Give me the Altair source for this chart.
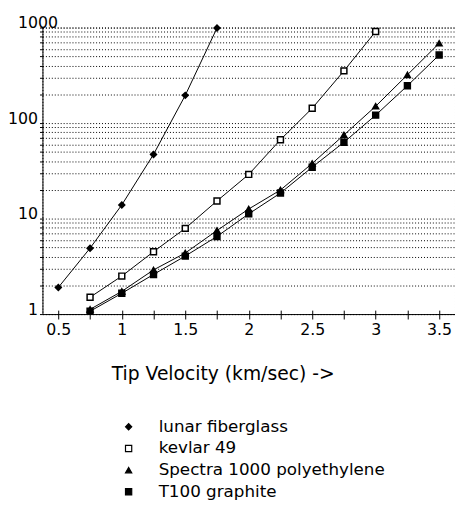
import altair as alt
import pandas as pd

# ---- data ----
series_names = ["lunar fiberglass", "kevlar 49", "Spectra 1000 polyethylene", "T100 graphite"]

lunar_v = [0.5, 0.75, 1.0, 1.25, 1.5, 1.75]
lunar_m = [1.9, 4.9, 13.9, 47, 195, 990]

kevlar_v = [0.75, 1.0, 1.25, 1.5, 1.75, 2.0, 2.25, 2.5, 2.75, 3.0]
kevlar_m = [1.5, 2.5, 4.5, 7.9, 15.3, 29, 67, 143, 352, 910]

spectra_v = [0.75, 1.0, 1.25, 1.5, 1.75, 2.0, 2.25, 2.5, 2.75, 3.0, 3.25, 3.5]
spectra_m = [1.12, 1.73, 2.9, 4.36, 7.5, 12.6, 19.9, 37.8, 75, 150, 320, 684]

t100_v = [0.75, 1.0, 1.25, 1.5, 1.75, 2.0, 2.25, 2.5, 2.75, 3.0, 3.25, 3.5]
t100_m = [1.07, 1.65, 2.6, 4.05, 6.5, 11.2, 18.5, 34.5, 63, 121, 246, 516]

x_ticks = [0.5, 0.75, 1.0, 1.25, 1.5, 1.75, 2.0, 2.25, 2.5, 2.75, 3.0, 3.25, 3.5]
y_ticks = [1, 2, 3, 4, 5, 6, 7, 8, 9, 10, 20, 30, 40, 50, 60, 70, 80, 90,
           100, 200, 300, 400, 500, 600, 700, 800, 900, 1000]

rows = []
for name, vs, ms in zip(series_names,
                        [lunar_v, kevlar_v, spectra_v, t100_v],
                        [lunar_m, kevlar_m, spectra_m, t100_m]):
    for v, m in zip(vs, ms):
        rows.append({"series": name, "v": v, "m": m})
df = pd.DataFrame(rows)

FONT = "DejaVu Sans"
W, H = 419, 291
x_dom = [0.375, 3.625]

x_scale = alt.Scale(domain=x_dom, nice=False, zero=False)
y_scale = alt.Scale(type="log", domain=[1, 1000], nice=False)

x_bottom = alt.X(
    "v:Q", scale=x_scale, title="Tip Velocity (km/sec) ->",
    axis=alt.Axis(values=x_ticks, format="~g",
                  labelExpr="(datum.value * 2) % 1 == 0 ? datum.label : ''",
                  grid=False, tickSize=5, labelPadding=3, labelFontSize=16,
                  labelFont=FONT, labelColor="black", domainColor="black",
                  tickColor="black", titleFont=FONT, titleFontSize=19,
                  titleFontWeight="normal", titleColor="black",
                  titlePadding=27, titleX=183, titleAlign="center",
                  labelFlush=False, labelOverlap=False))

y_enc = alt.Y(
    "m:Q", scale=y_scale, title=None,
    axis=alt.Axis(values=y_ticks, format="d",
                  labelExpr="(datum.value == 1 || datum.value == 10 || datum.value == 100 || datum.value == 1000) ? datum.label : ''",
                  grid=True, gridColor="black", gridDash=[1, 2], gridWidth=1,
                  gridOpacity=1, tickSize=3, labelPadding=2, labelFontSize=16,
                  labelFont=FONT, labelColor="black", domainColor="black",
                  tickColor="black", labelBaseline="alphabetic",
                  labelAlign={"condition": {"test": "datum.value == 1000", "value": "center"}, "value": "right"},
                  labelOverlap=False, labelFlush=False))

lines = alt.Chart(df).mark_line(color="black", strokeWidth=1).encode(
    x=x_bottom, y=y_enc, detail="series:N", order="v:Q")

shape_scale = alt.Scale(domain=series_names,
                        range=["diamond", "square", "triangle-up", "square"])
fill_scale = alt.Scale(domain=series_names,
                       range=["black", "white", "black", "black"])
stroke_scale = alt.Scale(domain=series_names,
                         range=["black", "black", "black", "black"])
legend = alt.Legend(title=None, orient="none", legendX=79, legendY=397,
                    padding=0, labelFont=FONT, labelFontSize=17,
                    labelColor="black", symbolSize=40, symbolStrokeColor="black",
                    symbolStrokeWidth=1.2, labelOffset=22, rowPadding=4,
                    symbolOpacity=1, labelLimit=400)

points = alt.Chart(df).mark_point(filled=True, strokeWidth=1.5,
                                  opacity=1, size=36).encode(
    x=alt.X("v:Q", scale=x_scale, axis=None),
    y=alt.Y("m:Q", scale=y_scale),
    shape=alt.Shape("series:N", scale=shape_scale, legend=legend, sort=series_names),
    fill=alt.Fill("series:N", scale=fill_scale, legend=legend, sort=series_names),
    stroke=alt.Stroke("series:N", scale=stroke_scale, legend=legend, sort=series_names))

# upward-pointing half of the crossing x ticks
up_ticks = alt.Chart(df).mark_point(opacity=0).encode(
    x=alt.X("v:Q", scale=x_scale, title=None,
            axis=alt.Axis(orient="top", offset=-H, values=x_ticks, labels=False,
                          domain=False, grid=False, tickSize=4, tickColor="black")),
    y=alt.Y("m:Q", scale=y_scale))

chart = alt.layer(up_ticks, lines, points).resolve_scale(x="independent").properties(
    width=W, height=H,
    padding={"left": 35, "top": 16, "right": 0, "bottom": 188},
    autosize=alt.AutoSizeParams(type="none"),
    background="white",
).configure_view(stroke="black", strokeDash=[1, 2], strokeWidth=1)

chart.save("out.html", embed_options={"renderer": "svg", "actions": False})
